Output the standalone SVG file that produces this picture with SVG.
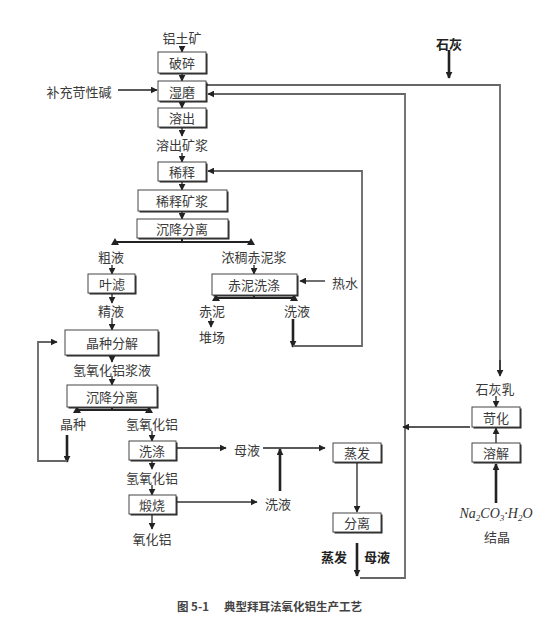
<svg xmlns="http://www.w3.org/2000/svg" width="550" height="620" viewBox="0 0 550 620">
<style>
.t{font-family:"Noto Sans CJK SC","Noto Sans",sans-serif;font-size:13px;fill:#3a3a3a;text-anchor:middle;dominant-baseline:central}
.b{font-weight:bold;fill:#222}
.box{fill:#fff;stroke:#444;stroke-width:1}
.sh{fill:#222}
.ln{fill:none;stroke:#222;stroke-width:1.3}
.rt{fill:none;stroke:#666;stroke-width:1.8}
.tk{fill:none;stroke:#222;stroke-width:2.6}
.tri{fill:#222}
</style>
<defs>
<marker id="ah" viewBox="0 0 10 10" refX="9" refY="5" markerWidth="7" markerHeight="7" markerUnits="userSpaceOnUse" orient="auto">
<path d="M0,0 L10,5 L0,10 z" fill="#222"/>
</marker>
</defs>
<rect width="550" height="620" fill="#fff"/>

<g id="connectors">
<line class="ln" x1="182" y1="47" x2="182" y2="52" marker-end="url(#ah)"/>
<line class="ln" x1="182" y1="74" x2="182" y2="81" marker-end="url(#ah)"/>
<line class="ln" x1="118" y1="90" x2="157" y2="90" marker-end="url(#ah)"/>
<line class="ln" x1="182" y1="102" x2="182" y2="108" marker-end="url(#ah)"/>
<line class="ln" x1="182" y1="128" x2="182" y2="136" marker-end="url(#ah)"/>
<line class="ln" x1="182" y1="153" x2="182" y2="162" marker-end="url(#ah)"/>
<line class="ln" x1="182" y1="182" x2="182" y2="190" marker-end="url(#ah)"/>
<line class="ln" x1="182" y1="212" x2="182" y2="219" marker-end="url(#ah)"/>
<path class="ln" d="M182 239 V242 M115 242 H251" style="stroke-width:2"/>
<polygon class="tri" points="111,245 115,238 119,245"/>
<polygon class="tri" points="247,245 251,238 255,245"/>
<line class="ln" x1="112" y1="265" x2="112" y2="274" marker-end="url(#ah)"/>
<line class="ln" x1="254" y1="265" x2="254" y2="274" marker-end="url(#ah)"/>
<line class="ln" x1="112" y1="294" x2="112" y2="303" marker-end="url(#ah)"/>
<line class="ln" x1="112" y1="318" x2="112" y2="330" marker-end="url(#ah)"/>
<line class="ln" x1="112" y1="356" x2="112" y2="362" marker-end="url(#ah)"/>
<line class="ln" x1="112" y1="376" x2="112" y2="385" marker-end="url(#ah)"/>
<path class="ln" d="M112 408 V410 M77 410 H149" style="stroke-width:2"/>
<polygon class="tri" points="73,413 77,406 81,413"/>
<polygon class="tri" points="145,413 149,406 153,413"/>
<line class="tk" x1="67" y1="435" x2="67" y2="462" marker-end="url(#ah)"/>
<path class="rt" d="M67 461 H38 V342 H57" marker-end="url(#ah)"/>
<line class="ln" x1="152" y1="431" x2="152" y2="441" marker-end="url(#ah)"/>
<line class="ln" x1="177" y1="448" x2="226" y2="448" marker-end="url(#ah)"/>
<line class="ln" x1="263" y1="448" x2="325" y2="448" marker-end="url(#ah)"/>
<line class="tk" x1="280" y1="491" x2="280" y2="449" marker-end="url(#ah)"/>
<line class="ln" x1="152" y1="461" x2="152" y2="469" marker-end="url(#ah)"/>
<line class="ln" x1="152" y1="485" x2="152" y2="495" marker-end="url(#ah)"/>
<line class="rt" x1="177" y1="502" x2="257" y2="502" marker-end="url(#ah)"/>
<line class="ln" x1="152" y1="515" x2="152" y2="529" marker-end="url(#ah)"/>
<line class="ln" x1="325" y1="281" x2="300" y2="281" marker-end="url(#ah)"/>
<path class="ln" d="M254 296 V298 M216 298 H294" style="stroke-width:2"/>
<polygon class="tri" points="212,301 216,294 220,301"/>
<polygon class="tri" points="290,301 294,294 298,301"/>
<line class="ln" x1="211" y1="318" x2="211" y2="327" marker-end="url(#ah)"/>
<line class="tk" x1="293" y1="319" x2="293" y2="347" marker-end="url(#ah)"/>
<path class="rt" d="M293 346 H362 V171 H208" marker-end="url(#ah)"/>
<line class="ln" x1="357" y1="463" x2="357" y2="512" marker-end="url(#ah)"/>
<line class="tk" x1="357" y1="543" x2="357" y2="576" marker-end="url(#ah)"/>
<path class="rt" d="M360 578 H405 V94 H208" marker-end="url(#ah)"/>
<path class="rt" d="M500 374 V85 H208"/>
<line class="ln" x1="500" y1="360" x2="500" y2="376" marker-end="url(#ah)"/>
<line class="tk" x1="449" y1="50" x2="449" y2="78" marker-end="url(#ah)"/>
<line class="ln" x1="200" y1="85" x2="208" y2="85" marker-end="url(#ah)"/>
<line class="ln" x1="496" y1="396" x2="496" y2="407" marker-end="url(#ah)"/>
<line class="ln" x1="470" y1="427" x2="403" y2="427" marker-end="url(#ah)"/>
<line class="ln" x1="496" y1="443" x2="496" y2="428" marker-end="url(#ah)"/>
<line class="tk" x1="496" y1="503" x2="496" y2="464" marker-end="url(#ah)"/>
</g>

<g id="n-bauxite"><text class="t" x="182" y="37">铝土矿</text></g>
<g id="n-crush"><rect class="sh" x="159.5" y="53.5" width="48" height="21"/><rect class="box" x="158" y="52" width="48" height="21"/><text class="t" x="182" y="62.5">破碎</text></g>
<g id="n-alkali"><text class="t" x="79" y="91">补充苛性碱</text></g>
<g id="n-wetgrind"><rect class="sh" x="159.5" y="82.5" width="48" height="20"/><rect class="box" x="158" y="81" width="48" height="20"/><text class="t" x="182" y="91">湿磨</text></g>
<g id="n-digest"><rect class="sh" x="159.5" y="109.5" width="48" height="19"/><rect class="box" x="158" y="108" width="48" height="19"/><text class="t" x="182" y="117.5">溶出</text></g>
<g id="n-slurry"><text class="t" x="182" y="144">溶出矿浆</text></g>
<g id="n-dilute"><rect class="sh" x="159.5" y="163.5" width="48" height="19"/><rect class="box" x="158" y="162" width="48" height="19"/><text class="t" x="182" y="171.5">稀释</text></g>
<g id="n-dilslurry"><rect class="sh" x="139.5" y="191.5" width="89" height="21"/><rect class="box" x="138" y="190" width="89" height="21"/><text class="t" x="182" y="200.5">稀释矿浆</text></g>
<g id="n-settle1"><rect class="sh" x="138.5" y="220.5" width="91" height="19"/><rect class="box" x="137" y="219" width="91" height="19"/><text class="t" x="182" y="228.5">沉降分离</text></g>
<g id="n-crude"><text class="t" x="111" y="256">粗液</text></g>
<g id="n-mudslurry"><text class="t" x="254" y="256">浓稠赤泥浆</text></g>
<g id="n-leaf"><rect class="sh" x="89.5" y="275.5" width="47" height="19"/><rect class="box" x="88" y="274" width="47" height="19"/><text class="t" x="112" y="283.5">叶滤</text></g>
<g id="n-mudwash"><rect class="sh" x="213.5" y="275.5" width="85" height="21"/><rect class="box" x="212" y="274" width="85" height="21"/><text class="t" x="254" y="284.5">赤泥洗涤</text></g>
<g id="n-hotwater"><text class="t" x="345" y="282">热水</text></g>
<g id="n-redmud"><text class="t" x="212" y="310">赤泥</text></g>
<g id="n-yard"><text class="t" x="212" y="336">堆场</text></g>
<g id="n-washliq1"><text class="t" x="297" y="310">洗液</text></g>
<g id="n-fine"><text class="t" x="111" y="310">精液</text></g>
<g id="n-decomp"><rect class="sh" x="66.5" y="331.5" width="93" height="25"/><rect class="box" x="65" y="330" width="93" height="25"/><text class="t" x="112" y="342.5">晶种分解</text></g>
<g id="n-ahslurry"><text class="t" x="112" y="369">氢氧化铝浆液</text></g>
<g id="n-settle2"><rect class="sh" x="68.5" y="386.5" width="90" height="22"/><rect class="box" x="67" y="385" width="90" height="22"/><text class="t" x="112" y="396">沉降分离</text></g>
<g id="n-seed"><text class="t" x="73" y="423">晶种</text></g>
<g id="n-ah1"><text class="t" x="152" y="423">氢氧化铝</text></g>
<g id="n-wash"><rect class="sh" x="130.5" y="442.5" width="47" height="19"/><rect class="box" x="129" y="441" width="47" height="19"/><text class="t" x="152" y="450.5">洗涤</text></g>
<g id="n-mother"><text class="t" x="247" y="449">母液</text></g>
<g id="n-ah2"><text class="t" x="152" y="477">氢氧化铝</text></g>
<g id="n-calcine"><rect class="sh" x="130.5" y="496.5" width="47" height="19"/><rect class="box" x="129" y="495" width="47" height="19"/><text class="t" x="152" y="504.5">煅烧</text></g>
<g id="n-washliq2"><text class="t" x="278" y="503">洗液</text></g>
<g id="n-alumina"><text class="t" x="152" y="538">氧化铝</text></g>
<g id="n-evap"><rect class="sh" x="334.5" y="444.5" width="48" height="19"/><rect class="box" x="333" y="443" width="48" height="19"/><text class="t" x="357" y="452.5">蒸发</text></g>
<g id="n-sep"><rect class="sh" x="334.5" y="514.5" width="48" height="19"/><rect class="box" x="333" y="513" width="48" height="19"/><text class="t" x="357" y="522.5">分离</text></g>
<g id="n-evapmother"><text class="t b" x="334" y="556">蒸发</text><text class="t b" x="377" y="556">母液</text></g>
<g id="n-lime"><text class="t b" x="449" y="43">石灰</text></g>
<g id="n-limemilk"><text class="t" x="495" y="388">石灰乳</text></g>
<g id="n-caustic"><rect class="sh" x="473.5" y="408.5" width="48" height="20"/><rect class="box" x="472" y="407" width="48" height="20"/><text class="t" x="496" y="417">苛化</text></g>
<g id="n-dissolve"><rect class="sh" x="473.5" y="444.5" width="48" height="19"/><rect class="box" x="472" y="443" width="48" height="19"/><text class="t" x="496" y="452.5">溶解</text></g>
<g id="n-soda"><text x="496" y="518" style="font-family:'Liberation Serif',serif;font-style:italic;font-size:14px;fill:#333;text-anchor:middle">Na<tspan font-size="9" dy="3">2</tspan><tspan dy="-3">CO</tspan><tspan font-size="9" dy="3">3</tspan><tspan dy="-3">·H</tspan><tspan font-size="9" dy="3">2</tspan><tspan dy="-3">O</tspan></text><text class="t" x="497" y="536">结晶</text></g>
<g id="caption"><text x="177" y="611" style="font-family:'Noto Sans CJK SC','Noto Sans',sans-serif;font-size:11.5px;font-weight:bold;fill:#444">图 5-1<tspan x="224">典型拜耳法氧化铝生产工艺</tspan></text></g>
</svg>
